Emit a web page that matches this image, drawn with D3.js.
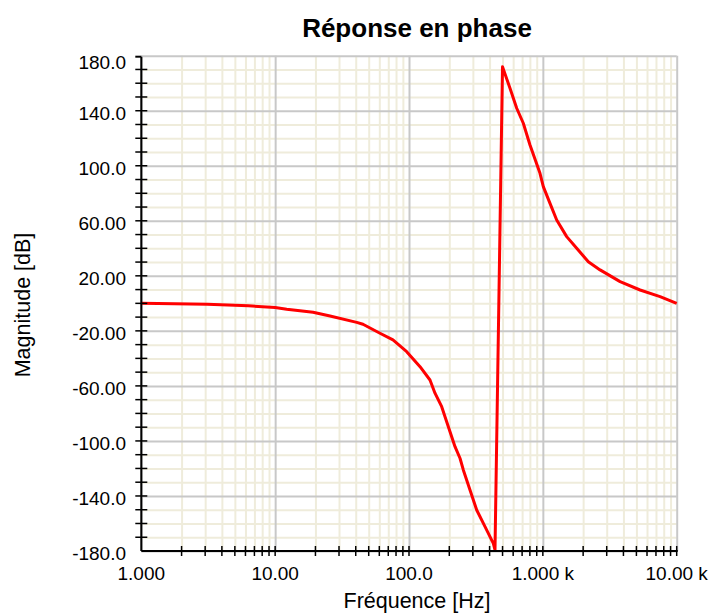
<!DOCTYPE html>
<html>
<head>
<meta charset="utf-8">
<script src="https://cdn.jsdelivr.net/npm/d3@7"></script>
<style>
  body { margin: 0; background: #fff; }
  svg { display: block; }
  text { font-family: "Liberation Sans", Arial, sans-serif; fill: #000; }
</style>
</head>
<body>
<svg id="chart" width="715" height="613"></svg>
<script>
// ---- Data ----
const freqHz = [1, 3.1, 6.3, 10, 12.2, 19.2, 25.7, 40.7, 45.3, 60.7, 75.9, 96.1, 120.9, 143.5, 156.4, 175.5, 185.8, 202.5, 220.7, 240.5, 254.6, 285.6, 320.4, 369.7, 426.4, 439, 499.6, 568.3, 637.9, 714.5, 801.7, 952, 1008, 1131, 1269, 1507, 1790, 2186, 2676, 3777, 5325, 7513, 10000];
const phaseDeg = [0, -0.7, -1.8, -3.0, -4.3, -6.5, -9.2, -13.8, -15.2, -21.7, -26.6, -35.1, -46.0, -55.7, -65.3, -75.1, -82.4, -93.3, -104.2, -112.6, -121.1, -135.6, -150.2, -162.3, -174.4, -179.2, 172.0, 156.3, 141.8, 130.9, 115.1, 94.5, 84.8, 72.7, 60.6, 48.5, 40.0, 30.3, 24.3, 15.8, 9.7, 4.9, 0.0];
const yTicks = [180, 140, 100, 60, 20, -20, -60, -100, -140, -180];
const yTickLabels = ["180.0", "140.0", "100.0", "60.00", "20.00", "-20.00", "-60.00", "-100.0", "-140.0", "-180.0"];
const xTicks = [1, 10, 100, 1000, 10000];
const xTickLabels = ["1.000", "10.00", "100.0", "1.000 k", "10.00 k"];
const titleText = "Réponse en phase";
const xTitle = "Fréquence [Hz]";
const yTitle = "Magnitude [dB]";

// ---- Layout ----
const L = 141.3, R = 676.7, T = 55.7, B = 551;
const svg = d3.select("#chart");
const x = d3.scaleLog().domain([1, 10000]).range([L, R]);
const y = d3.scaleLinear().domain([-180, 180]).range([B, T]);

// minor positions
const xMinor = [];
for (let d = 1; d < 10000; d *= 10) for (let k = 2; k <= 9; k++) xMinor.push(d * k);
const yMinor = d3.range(-180, 181, 10).filter(v => !yTicks.includes(v));

// minor grid
const g = svg.append("g");
g.append("g").call(d3.axisBottom(x).tickValues(xMinor).tickSize(-(B - T)).tickFormat(""))
  .attr("transform", `translate(0,${B})`)
  .call(s => s.select(".domain").remove())
  .call(s => s.selectAll("line").attr("stroke", "#efecdb").attr("stroke-width", 2));
g.append("g").call(d3.axisLeft(y).tickValues(yMinor).tickSize(-(R - L)).tickFormat(""))
  .attr("transform", `translate(${L},0)`)
  .call(s => s.select(".domain").remove())
  .call(s => s.selectAll("line").attr("stroke", "#efecdb").attr("stroke-width", 2));
// major grid
g.append("g").call(d3.axisBottom(x).tickValues(xTicks).tickSize(-(B - T)).tickFormat(""))
  .attr("transform", `translate(0,${B})`)
  .call(s => s.select(".domain").remove())
  .call(s => s.selectAll("line").attr("stroke", "#c8c8c8").attr("stroke-width", 2));
g.append("g").call(d3.axisLeft(y).tickValues(yTicks).tickSize(-(R - L)).tickFormat(""))
  .attr("transform", `translate(${L},0)`)
  .call(s => s.select(".domain").remove())
  .call(s => s.selectAll("line").attr("stroke", "#c8c8c8").attr("stroke-width", 2));

// curve
const line = d3.line().x((d, i) => x(freqHz[i])).y(d => y(d));
svg.append("path").datum(phaseDeg)
  .attr("d", line)
  .attr("fill", "none")
  .attr("stroke", "#ff0000")
  .attr("stroke-width", 3)
  .attr("stroke-linejoin", "round");

// axes (black) with crossing ticks
const axisG = svg.append("g");
axisG.append("line").attr("x1", L).attr("x2", L).attr("y1", T + 1).attr("y2", B).attr("stroke", "#000").attr("stroke-width", 2);
axisG.append("line").attr("x1", L).attr("x2", R + 1).attr("y1", B).attr("y2", B).attr("stroke", "#000").attr("stroke-width", 2);
axisG.append("line").attr("x1", L - 6).attr("x2", L).attr("y1", T + 1).attr("y2", T + 1).attr("stroke", "#000").attr("stroke-width", 2);
const yAllTicks = d3.range(-170, 180, 10);
axisG.selectAll(".yt").data(yAllTicks).enter().append("line")
  .attr("x1", L - 6).attr("x2", L + 6)
  .attr("y1", d => y(d)).attr("y2", d => y(d))
  .attr("stroke", "#000").attr("stroke-width", 1.5);
axisG.selectAll(".xt").data(xMinor.concat([10, 100, 1000, 10000])).enter().append("line")
  .attr("x1", d => x(d)).attr("x2", d => x(d))
  .attr("y1", B - 5).attr("y2", B + 5)
  .attr("stroke", "#000").attr("stroke-width", 1.5);

// tick labels
svg.append("g").selectAll("text").data(yTicks).enter().append("text")
  .attr("x", 126)
  .attr("y", (d, i) => y(d) + (i === 0 ? 13 : 9))
  .attr("text-anchor", "end")
  .attr("font-size", 19)
  .text((d, i) => yTickLabels[i]);
svg.append("g").selectAll("text").data(xTicks).enter().append("text")
  .attr("x", d => x(d))
  .attr("y", 580)
  .attr("text-anchor", "middle")
  .attr("font-size", 19)
  .text((d, i) => xTickLabels[i]);

// titles
svg.append("text").attr("x", 417).attr("y", 37).attr("text-anchor", "middle")
  .attr("font-size", 26).attr("font-weight", "bold").text(titleText);
svg.append("text").attr("x", 417).attr("y", 608).attr("text-anchor", "middle")
  .attr("font-size", 21.5).text(xTitle);
svg.append("text").attr("transform", `translate(30,305) rotate(-90)`).attr("text-anchor", "middle")
  .attr("font-size", 21.5).text(yTitle);
</script>
</body>
</html>
